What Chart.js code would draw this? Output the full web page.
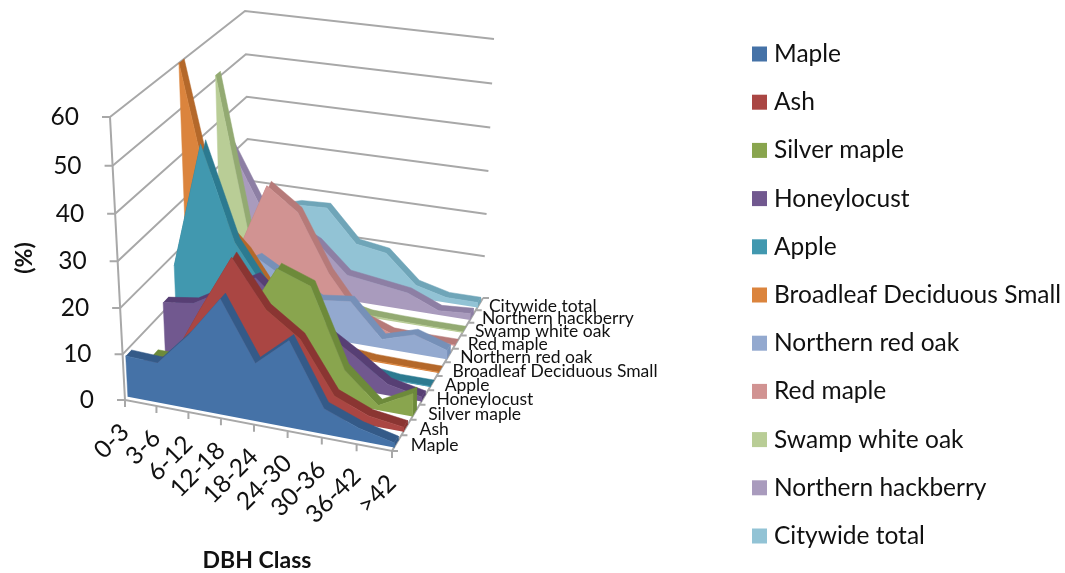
<!DOCTYPE html>
<html>
<head>
<meta charset="utf-8">
<title>DBH Class</title>
<script src="https://cdn.jsdelivr.net/npm/chart.js@4"></script>
<style>
  html, body { margin: 0; padding: 0; background: #fff; }
  canvas { display: block; }
</style>
</head>
<body>
<canvas id="areaChart" width="1065" height="573"></canvas>
<script>
// --- Data (% of trees per DBH class) ---
const categories = ['0-3', '3-6', '6-12', '12-18', '18-24', '24-30', '30-36', '36-42', '>42'];
const valueTicks = [0, 10, 20, 30, 40, 50, 60];
const seriesNames = ['Maple', 'Ash', 'Silver maple', 'Honeylocust', 'Apple', 'Broadleaf Deciduous Small',
  'Northern red oak', 'Red maple', 'Swamp white oak', 'Northern hackberry', 'Citywide total'];

const maple = [9, 8.7, 16, 25, 12.5, 18.7, 5.5, 2.7, 1];
const ash = [4, 6, 18.7, 31, 21, 16, 5, 2, 1];
const silverMaple = [3, 3, 6, 15, 27, 24.4, 7.5, 1, 5];
const honeylocust = [12, 13, 17, 21, 15, 12, 7.5, 2.5, 1];
const apple = [17.5, 45.5, 25, 15, 8, 4, 1, 0.2, 0.2];
const broadleaf = [60, 27, 20, 10, 4, 1, 0.3, 0.2, 0.2];
const northernRedOak = [8, 12, 16, 12, 8.6, 9.5, 2, 4.3, 2];
const redMaple = [5, 14, 30, 25, 12, 3, 0.4, 0.2, 0.2];
const swampWhiteOak = [51, 15, 9, 5, 2, 0.5, 0.3, 0.2, 0.2];
const northernHackberry = [33, 20, 16, 12.5, 6, 5, 4, 1, 1.5];
const citywideTotal = [10, 16, 18, 18.3, 10.7, 9.6, 3, 1.2, 1.2];

const seriesValues = [maple, ash, silverMaple, honeylocust, apple, broadleaf,
  northernRedOak, redMaple, swampWhiteOak, northernHackberry, citywideTotal];

const faceColors = ['#4572a7', '#aa4643', '#89a54e', '#71588f', '#4198af', '#db843d',
  '#93a9cf', '#d19392', '#b9cd96', '#a99bbd', '#92c3d5'];
const bandColors = ['#345a88', '#8a3532', '#6d8a3a', '#573f74', '#2c7a90', '#b4682a',
  '#7690b8', '#b67a79', '#93aa72', '#8d7fa4', '#6fa5b8'];
const gridColor = '#a8a8a8';

// --- 3D box corners on the page, [u][v][w] = category, depth, value ---
const corners = [
  [[[125, 400], [110, 117]], [[250, 262], [245, 11]]],
  [[[392, 451], [396, 160]], [[483, 298], [494, 39]]]
];
const warp = (t, r) => t / (t + r * (1 - t));   // perspective foreshortening

function project(u, v, value) {
  const a = warp(u, 1.07), b = warp(v, 0.866), c = warp(value / 60, 1.04);
  const out = { x: 0, y: 0 };
  [0, 1].forEach(i => [0, 1].forEach(j => [0, 1].forEach(k => {
    const weight = (i ? a : 1 - a) * (j ? b : 1 - b) * (k ? c : 1 - c);
    out.x += weight * corners[i][j][k][0];
    out.y += weight * corners[i][j][k][1];
  })));
  return out;
}

const catU = i => i / (categories.length - 1);
const GAP = { x: NaN, y: NaN };
const shift = (p, dx, dy) => ({ x: p.x + dx, y: p.y + dy });

function lineSet(data, width) {
  return { data, showLine: true, fill: false, borderColor: gridColor, borderWidth: width,
    pointRadius: 0, borderJoinStyle: 'miter', spanGaps: false };
}
function shapeSet(data, color) {
  return { data, showLine: true, fill: 'shape', backgroundColor: color, borderColor: color,
    borderWidth: 0.5, pointRadius: 0, tension: 0 };
}

// --- Build the ribbons, front series first (dataset 0 is drawn on top) ---
const datasets = [];
seriesValues.forEach((values, s) => {
  const vFront = (s + 0.22) / seriesNames.length;
  const vBack = (s + 0.65) / seriesNames.length;
  const front = values.map((val, i) => project(catU(i), vFront, val));
  const back = values.map((val, i) => project(catU(i), vBack, val));
  const last = values.length - 1;
  const face = [project(0, vFront, 0), ...front, project(1, vFront, 0)];
  const band = [...front, ...back.slice().reverse()];
  const cap = [project(1, vFront, 0), front[last], back[last], project(1, vBack, 0)];
  datasets.push(shapeSet(face, faceColors[s]));
  datasets.push(shapeSet(band, bandColors[s]));
  datasets.push(shapeSet(cap, bandColors[s]));
});

// --- Walls and axes behind everything ---
const wallLines = [];
valueTicks.slice(1).forEach(t => {
  wallLines.push(project(0, 0, t), project(0, 1, t), project(1, 1, t), GAP);
});
const axisLines = [project(0, 0, 60), project(0, 0, 0), project(1, 0, 0), project(1, 1, 0), GAP];
valueTicks.forEach(t => {
  const p = project(0, 0, t);
  axisLines.push(p, shift(p, -8, 0), GAP);
});
categories.forEach((c, i) => {
  const p = project(catU(i), 0, 0);
  axisLines.push(p, shift(p, 0, 7), GAP);
});
for (let s = 0; s <= seriesNames.length; s++) {
  const p = project(1, s / seriesNames.length, 0);
  axisLines.push(p, shift(p, 6, 0), GAP);
}
datasets.push(lineSet(axisLines, 2));
datasets.push(lineSet(wallLines, 2));

// --- Axis labels and legend, real text on the canvas ---
const labelFont = 'Lato, "Open Sans", sans-serif';
const textPlugin = {
  id: 'textPlugin',
  afterDraw(chart) {
    const ctx = chart.ctx;
    ctx.save();
    ctx.fillStyle = '#111';
    ctx.textBaseline = 'middle';

    ctx.font = '24.5px ' + labelFont;
    ctx.textAlign = 'right';
    valueTicks.forEach(t => {
      const p = project(0, 0, t);
      ctx.fillText(String(t), p.x - 31, p.y);
    });

    categories.forEach((c, i) => {
      const p = project(catU(i), 0, 0);
      ctx.save();
      ctx.translate(p.x, p.y + 28);
      ctx.rotate(-Math.PI / 4);
      ctx.fillText(c, 0, 0);
      ctx.restore();
    });

    ctx.font = '17.5px ' + labelFont;
    ctx.textAlign = 'left';
    seriesNames.forEach((name, s) => {
      const p = project(1, (s + 0.5) / seriesNames.length, 0);
      ctx.fillText(name, p.x + 14 - s * 0.45, p.y + 2);
    });

    ctx.font = 'bold 23px ' + labelFont;
    ctx.textAlign = 'center';
    ctx.fillText('DBH Class', 257, 561);
    ctx.save();
    ctx.translate(25, 258);
    ctx.rotate(-Math.PI / 2);
    ctx.fillText('(%)', 0, 0);
    ctx.restore();

    // legend
    ctx.font = '24.5px ' + labelFont;
    ctx.textAlign = 'left';
    seriesNames.forEach((name, s) => {
      const y = 54 + s * 48.2;
      ctx.fillStyle = faceColors[s];
      ctx.fillRect(752, y - 7.5, 15, 15);
      ctx.fillStyle = '#111';
      ctx.fillText(name, 774, y);
    });
    ctx.restore();
  }
};

new Chart(document.getElementById('areaChart').getContext('2d'), {
  type: 'scatter',
  data: { datasets },
  plugins: [textPlugin],
  options: {
    responsive: false,
    animation: false,
    layout: { padding: 0 },
    scales: {
      x: { type: 'linear', min: 0, max: 1065, display: false },
      y: { type: 'linear', min: 0, max: 573, reverse: true, display: false }
    },
    plugins: {
      legend: { display: false },
      tooltip: { enabled: false },
      filler: { drawTime: 'beforeDatasetDraw' }
    }
  }
});
</script>
</body>
</html>
